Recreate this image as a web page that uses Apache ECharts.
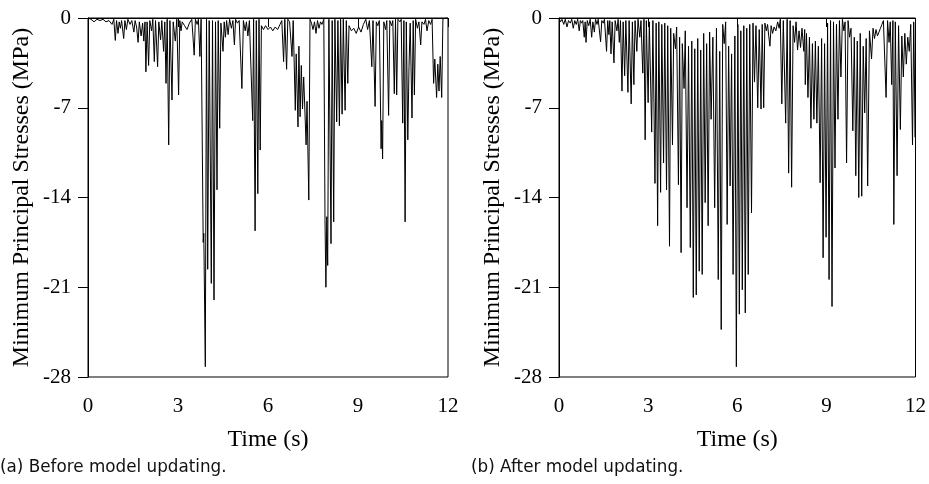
<!DOCTYPE html>
<html>
<head>
<meta charset="utf-8">
<script src="https://cdn.jsdelivr.net/npm/echarts@6/dist/echarts.min.js"></script>
<style>html,body{margin:0;padding:0;background:#fff}#c{width:929px;height:484px}</style>
</head>
<body>
<div id="c"></div>
<script>
const xTicks = [0, 3, 6, 9, 12];
const yTicks = [-28, -21, -14, -7, 0];
const xName = 'Time (s)';
const yName = 'Minimum Principal Stresses (MPa)';
const captions = ['(a) Before model updating.', '(b) After model updating.'];

const timeA = [0.00,0.10,0.20,0.30,0.40,0.50,0.60,0.70,0.80,0.86,0.91,0.95,1.00,1.04,1.08,1.12,1.19,1.23,1.28,1.33,1.40,1.46,1.53,1.57,1.62,1.67,1.71,1.77,1.82,1.86,1.90,1.93,1.97,2.02,2.06,2.12,2.16,2.21,2.25,2.32,2.36,2.42,2.46,2.52,2.56,2.60,2.64,2.69,2.73,2.80,2.84,2.91,2.96,3.02,3.06,3.10,3.14,3.22,3.30,3.38,3.46,3.54,3.58,3.64,3.68,3.73,3.77,3.84,3.86,3.91,3.95,3.99,4.04,4.11,4.15,4.20,4.25,4.30,4.34,4.39,4.43,4.50,4.54,4.58,4.62,4.67,4.72,4.78,4.83,4.88,4.92,4.98,5.04,5.13,5.18,5.24,5.28,5.33,5.38,5.49,5.52,5.57,5.61,5.66,5.70,5.74,5.78,5.85,5.92,6.00,6.08,6.16,6.24,6.32,6.40,6.46,6.52,6.56,6.62,6.66,6.72,6.80,6.84,6.91,6.94,7.00,7.03,7.07,7.11,7.15,7.19,7.27,7.30,7.36,7.40,7.45,7.50,7.55,7.60,7.65,7.70,7.75,7.80,7.86,7.90,7.93,7.96,7.99,8.03,8.10,8.14,8.19,8.23,8.29,8.33,8.38,8.42,8.47,8.51,8.57,8.61,8.66,8.70,8.78,8.86,8.94,9.02,9.10,9.18,9.26,9.32,9.38,9.46,9.50,9.57,9.61,9.66,9.71,9.77,9.79,9.82,9.86,9.92,9.96,10.02,10.06,10.12,10.16,10.21,10.25,10.29,10.33,10.40,10.44,10.49,10.53,10.57,10.61,10.66,10.70,10.74,10.80,10.84,10.88,10.92,10.98,11.03,11.09,11.13,11.20,11.25,11.30,11.36,11.42,11.47,11.52,11.56,11.62,11.66,11.70,11.74,11.79,11.83,11.90,12.00];
const stressA = [0,-0.1,-0.3,-0.1,-0.2,-0.1,-0.3,-0.2,-0.5,-0.1,-1.75,-0.2,-1.2,-0.3,-0.8,-0.2,-1.6,-0.2,-0.9,-0.1,-0.5,-0.2,-1.1,-0.2,-0.7,-1.9,-0.3,-1.4,-0.4,-1.8,-0.3,-4.2,-0.3,-3.7,-0.2,-1.0,-0.1,-3.4,-0.2,-3.8,-0.3,-1.7,-0.2,-2.6,-0.3,-5.1,-0.1,-9.9,-0.2,-6.4,-0.3,-1.8,-0.1,-6.0,-0.2,-1.0,-0.3,-0.6,-0.9,-0.4,-0.1,-2.9,-0.1,-0.5,-0.1,-3.0,-0.1,-17.5,-16.8,-27.2,-0.1,-19.6,-0.2,-20.7,-0.2,-22.0,-0.3,-13.4,-0.2,-8.6,-0.4,-2.6,-0.3,-1.5,-0.2,-1.3,-0.1,-0.8,-0.2,-2.1,-0.1,-0.4,-0.2,-5.5,-0.2,-1.0,-0.3,-1.4,-0.2,-8.0,-0.1,-16.6,-0.2,-13.7,-0.1,-10.3,-0.6,-0.9,-0.6,-0.9,-0.7,-1.0,-0.7,-0.9,-0.5,-0.2,-3.4,-0.1,-4.0,-0.1,-0.3,-3.0,-0.2,-7.2,-2.8,-8.5,-2.2,-7.7,-3.7,-7.1,-4.6,-9.9,-6.5,-14.2,-0.1,-0.4,-0.9,-0.3,-1.2,-0.2,-0.8,-0.3,-0.5,-0.1,-15.8,-21.0,-15.5,-19.3,-0.1,-17.6,-0.2,-15.9,-0.1,-8.1,-0.2,-8.4,-0.1,-7.5,-0.1,-7.2,-0.2,-5.1,-0.6,-1.0,-0.8,-1.2,-0.7,-1.1,-0.5,-0.1,-0.9,-0.2,-3.8,-0.2,-6.9,-0.3,-0.6,-0.2,-10.2,-8.0,-11.0,-0.3,-0.9,-0.2,-7.6,-0.2,-0.6,-0.2,-5.9,-0.1,-6.0,-0.1,-0.3,-0.1,-8.2,-0.2,-15.9,-0.3,-9.5,-3.8,-0.4,-7.8,-0.2,-6.0,-0.1,-0.8,-0.3,-2.1,-0.3,-0.5,-0.1,-1.0,-0.2,-0.5,-0.1,-5.1,-3.2,-6.2,-3.6,-5.7,-3.0,-6.2,-0.1,0,0];

const timeB = [0.00,0.05,0.10,0.16,0.21,0.27,0.32,0.38,0.43,0.48,0.53,0.58,0.63,0.68,0.72,0.76,0.80,0.85,0.88,0.91,0.95,1.00,1.05,1.10,1.14,1.19,1.23,1.28,1.32,1.40,1.44,1.49,1.53,1.60,1.64,1.68,1.71,1.75,1.79,1.85,1.89,1.95,1.99,2.03,2.07,2.12,2.16,2.21,2.25,2.32,2.36,2.43,2.47,2.52,2.56,2.62,2.66,2.72,2.76,2.82,2.86,2.90,2.94,3.00,3.04,3.12,3.16,3.23,3.27,3.32,3.36,3.42,3.46,3.52,3.56,3.62,3.66,3.72,3.76,3.82,3.86,3.92,3.96,4.02,4.06,4.11,4.15,4.21,4.25,4.31,4.36,4.42,4.47,4.52,4.57,4.62,4.67,4.72,4.77,4.82,4.87,4.92,4.97,5.02,5.07,5.12,5.18,5.24,5.30,5.36,5.41,5.46,5.51,5.56,5.61,5.66,5.71,5.76,5.81,5.86,5.92,5.97,6.02,6.07,6.12,6.17,6.22,6.27,6.32,6.37,6.42,6.48,6.53,6.58,6.63,6.69,6.74,6.80,6.84,6.89,6.93,6.98,7.02,7.06,7.10,7.14,7.19,7.24,7.30,7.36,7.41,7.45,7.50,7.55,7.63,7.68,7.73,7.78,7.83,7.88,7.93,7.98,8.03,8.08,8.13,8.18,8.24,8.27,8.29,8.33,8.38,8.43,8.48,8.53,8.58,8.63,8.68,8.73,8.79,8.84,8.89,8.94,8.99,9.04,9.09,9.14,9.19,9.24,9.29,9.34,9.39,9.44,9.49,9.54,9.59,9.63,9.68,9.73,9.78,9.83,9.89,9.94,9.99,10.04,10.09,10.14,10.19,10.24,10.29,10.34,10.39,10.45,10.52,10.57,10.62,10.67,10.72,10.77,10.82,10.87,10.92,10.97,11.01,11.06,11.11,11.15,11.20,11.24,11.27,11.32,11.38,11.43,11.49,11.54,11.59,11.64,11.69,11.74,11.79,11.84,11.90,11.94,11.99,12.00];
const stressB = [0,-0.3,-0.1,-0.5,-0.1,-0.7,-0.2,-0.4,-0.1,-0.8,-0.2,-0.5,-0.1,-1.0,-0.2,-0.4,-0.2,-1.5,-0.3,-1.9,-0.2,-0.6,-0.1,-1.5,-0.3,-1.1,-0.1,-0.5,-0.1,-1.85,-0.2,-0.4,-0.1,-2.6,-0.2,-1.3,-0.2,-2.8,-0.3,-3.5,-0.2,-1.0,-0.1,-1.9,-0.2,-5.7,-0.3,-4.5,-0.2,-5.8,-0.2,-6.7,-0.3,-5.2,-0.2,-2.6,-0.1,-1.5,-0.2,-4.3,-0.1,-9.5,-0.2,-6.6,-0.3,-8.9,-0.2,-12.9,-0.4,-16.2,-0.3,-13.6,-0.5,-11.3,-0.4,-13.4,-0.6,-17.8,-0.8,-9.9,-1.2,-2.4,-0.7,-13.0,-1.5,-18.3,-2.0,-5.5,-1.0,-14.8,-2.2,-17.9,-1.8,-21.8,-2.4,-21.6,-1.6,-19.75,-2.5,-20.0,-1.2,-14.4,-2.0,-16.2,-1.1,-7.9,-1.5,-14.8,-0.8,-20.4,-2.6,-24.3,-0.5,-2.0,-0.3,-16.1,-2.2,-13.1,-2.8,-20.0,-1.4,-27.2,-0.5,-23.1,-1.0,-21.2,-0.6,-23.0,-0.8,-20.0,-0.5,-15.2,-0.4,-5.0,-0.6,-7.0,-0.9,-7.1,-0.5,-7.0,-0.4,-1.0,-0.5,-1.4,-2.2,-0.6,-1.2,-0.7,-1.0,-0.3,-0.8,-0.1,-6.7,-0.2,-8.2,-0.1,-12.1,-0.2,-13.2,-0.6,-1.9,-0.3,-2.5,-1.0,-2.3,-0.8,-2.6,-0.9,-5.2,-1.2,-6.2,-1.5,-8.6,-2.0,-7.9,-1.8,-8.2,-2.2,-12.85,-1.6,-18.7,-2.0,-17.1,-0.4,-20.4,-0.2,-22.5,-0.3,-11.7,-0.5,-7.9,-0.2,-4.6,-0.1,-1.0,-0.3,-11.3,-0.2,-1.5,-0.8,-8.8,-1.5,-12.3,-1.8,-14.0,-1.2,-13.9,-2.2,-7.4,-1.6,-13.1,-1.0,-3.2,-0.8,-1.6,-0.9,-1.4,-1.1,-0.8,-0.5,-0.2,-0.1,-6.2,-0.2,-1.9,-0.3,-5.2,-0.2,-16.1,-0.3,-12.3,-0.6,-8.7,-1.4,-4.6,-1.2,-3.6,-1.5,-2.6,-0.5,-9.9,-0.3,-9.3,-0.5];

const zip = (t, v) => t.map((x, i) => [x, v[i]]);
const serif = 'Liberation Serif';
const grids = [
  {left: 88, right: 481, top: 18, bottom: 107},
  {left: 559, right: 10, top: 18, bottom: 107}
];
const chart = echarts.init(document.getElementById('c'), null, {renderer: 'canvas'});
const mkX = (gi) => ({
  type: 'value', gridIndex: gi, min: xTicks[0], max: xTicks[xTicks.length - 1], interval: 3,
  name: xName, nameLocation: 'middle', nameGap: 51,
  nameTextStyle: {fontFamily: serif, fontSize: 24, color: '#000'},
  axisLine: {show: true, lineStyle: {color: '#000', width: 1}},
  axisTick: {show: true, inside: false, length: 9, lineStyle: {color: '#000'}},
  axisLabel: {fontFamily: serif, fontSize: 21, color: '#000', margin: 19},
  splitLine: {show: false}
});
const mkY = (gi) => ({
  type: 'value', gridIndex: gi, min: yTicks[0], max: yTicks[yTicks.length - 1], interval: 7,
  name: yName, nameLocation: 'middle', nameGap: 54,
  nameTextStyle: {fontFamily: serif, fontSize: 24, color: '#000'},
  axisLine: {show: true, lineStyle: {color: '#000', width: 1}},
  axisTick: {show: true, inside: false, length: 10, lineStyle: {color: '#000'}},
  axisLabel: {fontFamily: serif, fontSize: 21, color: '#000', margin: 17},
  splitLine: {show: false}
});
chart.setOption({
  animation: false,
  backgroundColor: '#fff',
  grid: grids.map(g => Object.assign({show: true, borderColor: '#000', borderWidth: 1, backgroundColor: 'transparent'}, g)),
  xAxis: [mkX(0), mkX(1)],
  yAxis: [mkY(0), mkY(1)],
  series: [
    {type: 'line', xAxisIndex: 0, yAxisIndex: 0, data: zip(timeA, stressA), showSymbol: false, symbol: 'none', lineStyle: {color: '#000', width: 1}},
    {type: 'line', xAxisIndex: 1, yAxisIndex: 1, data: zip(timeB, stressB), showSymbol: false, symbol: 'none', lineStyle: {color: '#000', width: 1}}
  ],
  graphic: [
    {type: 'text', left: 0, top: 459, style: {text: captions[0], font: '16.8px "DejaVu Sans"', fill: '#111'}},
    {type: 'text', left: 471, top: 459, style: {text: captions[1], font: '16.8px "DejaVu Sans"', fill: '#111'}}
  ]
});
</script>
</body>
</html>
